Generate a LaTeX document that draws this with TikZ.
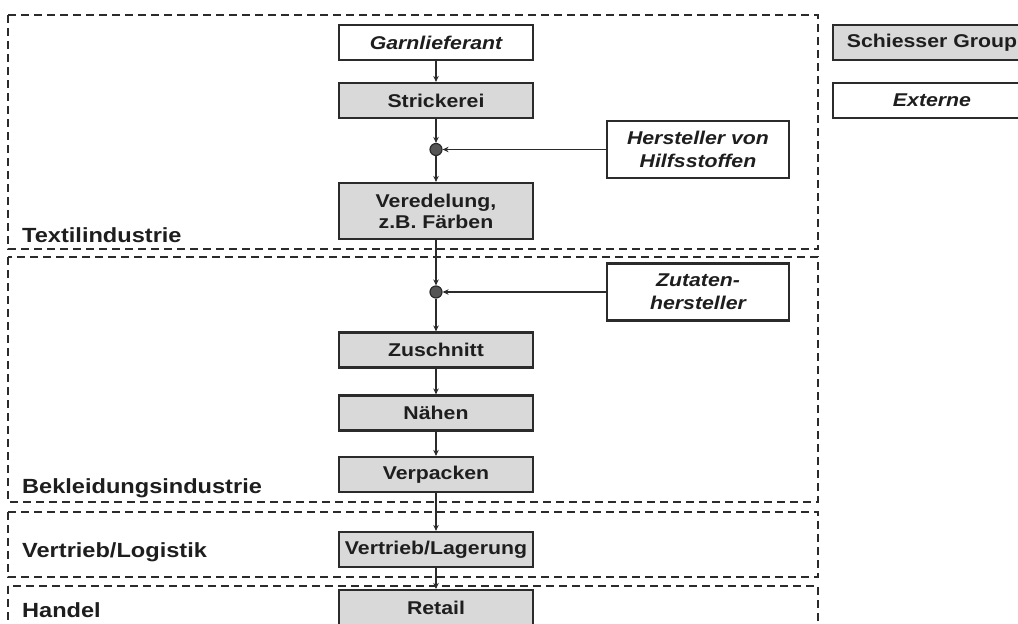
\documentclass[tikz,border=0pt]{standalone}
\usepackage{fontspec}
\setmainfont{Liberation Sans}[FakeStretch=1.15]
\usetikzlibrary{arrows.meta}
\definecolor{boxgray}{HTML}{D9D9D9}
\definecolor{linegray}{HTML}{2B2B2B}
\definecolor{dotgray}{HTML}{555555}
\definecolor{inkgray}{HTML}{1E1E1E}
\tikzset{
  stage/.style={draw=linegray, line width=2.2pt, fill=boxgray, minimum width=194pt,
    minimum height=35pt, inner sep=0pt, align=center, text=inkgray,
    font=\fontsize{18.5}{21}\selectfont\bfseries},
  extern/.style={stage, fill=white, font=\fontsize{18.5}{23}\selectfont\bfseries\itshape},
  region/.style={draw=linegray, line width=2pt, dash pattern=on 8pt off 5pt},
  regionlbl/.style={anchor=base west, inner sep=0pt, text=inkgray,
    font=\fontsize{20.5}{24}\selectfont\bfseries},
  flow/.style={draw=linegray, line width=1.8pt, -{Stealth[length=6pt,width=5.5pt]}},
  joint/.style={circle, draw=linegray, fill=dotgray, minimum size=12pt, inner sep=0pt, line width=1.2pt}
}
\begin{document}
\begin{tikzpicture}[x=1pt, y=-1pt]
    \useasboundingbox (0,0) rectangle (1018,624);
    \clip (0,0) rectangle (1018,624);

    % regions
    \draw[region] (8,15) rectangle (818,249);
    \draw[region] (8,257) rectangle (818,502);
    \draw[region] (8,512) rectangle (818,577);
    \draw[region] (8,586) rectangle (818,660);
    \node[regionlbl] (lbltextil) at (22,242) {Textilindustrie};
    \node[regionlbl] (lblbekl) at (22,493) {Bekleidungsindustrie};
    \node[regionlbl] (lblvertrieb) at (22,557) {Vertrieb/Logistik};
    \node[regionlbl] (lblhandel) at (22,617) {Handel};

    % main chain
    \node[extern] (garn) at (436,42.5) {Garnlieferant};
    \node[stage] (strick) at (436,100.5) {Strickerei};
    \node[joint] (dot1) at (436,149.5) {};
    \node[stage, minimum height=56pt] (vered) at (436,211) {Veredelung,\\z.B. F\"arben};
    \node[joint] (dot2) at (436,292) {};
    \node[stage] (zuschnitt) at (436,350) {Zuschnitt};
    \node[stage] (naehen) at (436,413) {N\"ahen};
    \node[stage] (verpack) at (436,474.5) {Verpacken};
    \node[stage] (vertrieb) at (436,549.5) {Vertrieb/Lagerung};
    \node[stage] (retail) at (436,607.5) {Retail};

    % suppliers
    \node[extern, minimum width=182pt, minimum height=57pt] (hilfs) at (698,149.5) {Hersteller von\\Hilfsstoffen};
    \node[extern, minimum width=182pt, minimum height=57pt] (zutaten) at (698,292) {Zutaten-\\hersteller};

    % legend
    \node[stage, minimum width=198pt] (leggroup) at (932,42.5) {Schiesser Group};
    \node[extern, minimum width=198pt] (legext) at (932,100.5) {Externe};

    \draw[flow] (garn) -- (strick);
    \draw[flow] (strick) -- (dot1);
    \draw[flow] (hilfs) -- (dot1);
    \draw[flow] (dot1) -- (vered);
    \draw[flow] (vered) -- (dot2);
    \draw[flow] (zutaten) -- (dot2);
    \draw[flow] (dot2) -- (zuschnitt);
    \draw[flow] (zuschnitt) -- (naehen);
    \draw[flow] (naehen) -- (verpack);
    \draw[flow] (verpack) -- (vertrieb);
    \draw[flow] (vertrieb) -- (retail);
\end{tikzpicture}
\end{document}
